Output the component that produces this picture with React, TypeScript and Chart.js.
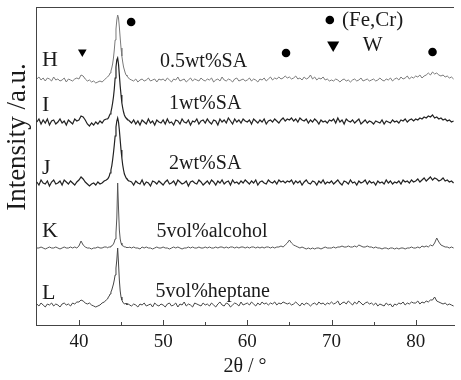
import React, { useEffect, useRef } from "react";
import { Chart, registerables } from "chart.js";
Chart.register(...registerables);

// 2θ sample positions (degrees)
const TWO_THETA = [
  35, 35.25, 35.5, 35.75, 36, 36.25, 36.5, 36.75, 37, 37.25, 37.5, 37.75, 38, 38.25, 38.5, 38.75, 39, 39.25, 39.5, 39.75,
  40, 40.25, 40.5, 40.75, 41, 41.25, 41.5, 41.75, 42, 42.25, 42.5, 42.75, 43, 43.25,
  43.4, 43.5, 43.6, 43.7, 43.8, 43.9, 44, 44.1, 44.2, 44.3, 44.4, 44.5, 44.6, 44.7, 44.8, 44.9, 45, 45.1, 45.2, 45.3, 45.4, 45.5, 45.6, 45.7, 45.8, 45.9, 46,
  46.25, 46.5, 46.75, 47, 47.25, 47.5, 47.75, 48, 48.25, 48.5, 48.75, 49, 49.25, 49.5, 49.75,
  50, 50.25, 50.5, 50.75, 51, 51.25, 51.5, 51.75, 52, 52.25, 52.5, 52.75, 53, 53.25, 53.5, 53.75, 54, 54.25, 54.5, 54.75,
  55, 55.25, 55.5, 55.75, 56, 56.25, 56.5, 56.75, 57, 57.25, 57.5, 57.75, 58, 58.25, 58.5, 58.75, 59, 59.25, 59.5, 59.75,
  60, 60.25, 60.5, 60.75, 61, 61.25, 61.5, 61.75, 62, 62.25, 62.5, 62.75, 63, 63.25, 63.5, 63.75, 64, 64.25, 64.5, 64.75,
  65, 65.25, 65.5, 65.75, 66, 66.25, 66.5, 66.75, 67, 67.25, 67.5, 67.75, 68, 68.25, 68.5, 68.75, 69, 69.25, 69.5, 69.75,
  70, 70.25, 70.5, 70.75, 71, 71.25, 71.5, 71.75, 72, 72.25, 72.5, 72.75, 73, 73.25, 73.5, 73.75, 74, 74.25, 74.5, 74.75,
  75, 75.25, 75.5, 75.75, 76, 76.25, 76.5, 76.75, 77, 77.25, 77.5, 77.75, 78, 78.25, 78.5, 78.75, 79, 79.25, 79.5, 79.75,
  80, 80.25, 80.5, 80.75, 81, 81.25, 81.5, 81.75, 82, 82.25, 82.5, 82.75, 83, 83.25, 83.5, 83.75, 84, 84.25, 84.5,
];

// Relative intensities (a.u.) of each pattern
const H_REL = [
  1, 3, 0, 2, -1, 2, 1, -1, 3, 0, 1, -1, 0, 2, -2, 1, 0, -1, 1, 2,
  1, 5, 4, 1, -1, 0, -2, -1, -3, -2, -1, -2, 0, 2,
  3, 4, 5, 7, 9, 12, 16, 22, 30, 40, 51, 60, 65, 62, 53, 42, 32, 24, 18, 13, 10, 7, 5, 4, 3, 2, 1,
  0, -1, 1, -2, 0, 1, -1, 0, 2, -1, 0, 1, -2, 1, 0,
  1, -1, 2, 0, -2, 1, 0, 3, -1, 0, 1, -2, 0, 2, -1, 1, 0, -1, 2, 0,
  -1, 1, 0, 2, -2, 0, 1, -1, 3, 0, -1, 1, 0, -2, 1, 2, -1, 0, 1, -1,
  0, 2, -1, 1, 0, -2, 1, 0, 2, -1, 1, 3, 0, 2, 1, 3, 1, 2, 4, 2,
  3, 1, 2, 4, 1, 2, 0, 3, 1, 2, 5, 1, 3, 0, 2, 1, 3, 0, 1, -1,
  0, -1, 1, 0, -2, 0, 1, -1, 0, -2, 0, 1, -1, 0, 2, -1, 0, 1, -1, 0,
  1, -1, 0, 2, 0, -1, 1, 0, 2, -1, 1, 2, 0, 3, 1, 2, 4, 1, 3, 2,
  4, 3, 5, 2, 4, 5, 7, 5, 8, 6, 7, 5, 4, 5, 3, 4, 2, 3, 1,
];
const I_REL = [
  0, 3, -2, 2, -1, 3, -3, 1, 2, -2, 0, 3, -1, 1, -3, 2, 0, -2, 3, 1,
  2, 6, 5, 2, -2, -4, -1, -3, 0, -2, 1, -1, 2, 3,
  3, 4, 6, 8, 10, 14, 19, 25, 33, 44, 55, 62, 64, 58, 47, 36, 27, 19, 14, 10, 7, 5, 4, 3, 2, 2, 1,
  -1, 2, -2, 1, -3, 2, 0, -2, 3, -1, 1, -3, 2, 0, -1,
  2, -2, 3, -1, 0, -3, 2, 1, -2, 3, 0, -1, 2, -3, 1, 0, 3, -2, 1, 2,
  -1, 3, 0, -2, 2, 1, -3, 3, 0, 2, -1, 4, 1, -2, 3, 0, 2, -1, 3, 1,
  0, 2, -2, 3, 1, -1, 2, 0, 3, -2, 1, 2, 0, 3, 1, -1, 2, 4, 1, 3,
  2, 4, 1, 3, 0, 4, 2, 1, 3, -1, 2, 0, 3, 1, -2, 2, 0, 1, -1, 2,
  1, 3, -1, 4, 0, 2, -2, 3, 1, 0, 2, -1, 1, 3, -2, 0, 2, -1, 1, 0,
  -2, 1, 0, -1, 2, -2, 1, 0, -1, 2, 0, 1, -1, 2, 1, 3, 0, 2, 3, 1,
  3, 2, 4, 3, 5, 4, 6, 5, 7, 4, 5, 3, 4, 2, 3, 1, 2, 0, 1,
];
const J_REL = [
  1, -2, 3, 0, -1, 2, -3, 1, 3, -1, 0, 2, -2, 3, 1, -1, 2, 0, -2, 1,
  3, 6, 4, 1, -1, -3, -1, 0, -2, 1, -1, 0, 2, 3,
  4, 5, 7, 10, 13, 17, 23, 30, 38, 47, 56, 62, 65, 61, 53, 43, 33, 25, 18, 13, 9, 7, 5, 4, 3, 2, 2,
  1, -2, 2, 0, -1, 3, -2, 1, 0, -3, 2, 1, -1, 2, 0,
  -2, 1, 3, -1, 0, 2, -2, 3, 1, -1, 0, 2, -3, 1, 2, 0, -1, 3, 1, -2,
  0, 2, -1, 3, 1, -2, 2, 0, 3, -1, 1, 2, -2, 3, 0, 1, -1, 2, 0, 3,
  1, -1, 2, 0, 3, -2, 1, 2, 0, -1, 3, 1, 0, 2, -1, 3, 1, 2, 0, 2,
  1, 3, -1, 2, 0, 2, -2, 1, 3, 0, -1, 2, 1, -2, 2, 0, 3, -1, 1, 0,
  2, -1, 1, 3, 0, -2, 2, 1, -1, 3, 0, 1, -2, 2, 0, 1, 3, -1, 2, 0,
  1, -2, 2, 0, 1, -1, 3, 0, 2, -1, 1, 0, 2, -1, 3, 1, 2, 0, 3, 1,
  2, 4, 1, 3, 5, 2, 4, 6, 3, 5, 4, 2, 3, 5, 2, 3, 1, 2, 0,
];
const K_REL = [
  0, 0, 1, 0, -1, 0, 1, 0, 0, 1, 0, -1, 0, 1, 0, 0, 1, 0, 1, 0,
  2, 7, 3, 1, 0, 0, -1, 0, 0, 1, 0, 0, 1, 1,
  0, 1, 1, 1, 2, 2, 3, 4, 6, 9, 15, 30, 65, 40, 18, 9, 5, 3, 2, 2, 1, 1, 1, 0, 1, 0, 1,
  0, 1, 0, 0, -1, 1, 0, 1, 0, 0, -1, 0, 1, 0, 0,
  1, 0, 0, -1, 0, 1, 0, 1, 0, -1, 0, 0, 1, 0, 1, 0, 0, 1, 0, 0,
  1, 0, 1, 0, 0, 1, 0, 1, 1, 0, 1, 0, 1, 1, 0, 1, 0, 1, 1, 0,
  1, 0, 1, 1, 0, 1, 0, 1, 0, 1, 1, 0, 1, 0, 1, 1, 2, 1, 3, 5,
  8, 5, 3, 2, 1, 0, 1, 0, -1, 0, -1, 0, -1, 0, 0, -1, 0, 1, 0, 0,
  0, 1, 0, 1, 1, 2, 1, 1, 2, 1, 1, 2, 1, 3, 2, 1, 1, 2, 1, 1,
  0, 1, 0, 0, -1, 0, 0, -1, 0, 0, -1, 0, -1, 0, 0, -1, 0, 0, 1, 0,
  0, 1, 0, 2, 1, 2, 1, 3, 2, 5, 10, 6, 3, 2, 1, 1, 0, 1, 0,
];
const L_REL = [
  1, -1, 2, 0, -2, 1, 0, 2, -1, 1, 0, -2, 1, 2, 0, 1, -1, 2, 1, 3,
  3, 5, 4, 2, 1, 2, 0, -1, -2, -1, 0, 2, 3, 5,
  6, 8, 9, 11, 13, 15, 18, 21, 25, 30, 37, 45, 57, 42, 25, 14, 8, 5, 3, 2, 1, 1, 2, 0, 1, 1, 0,
  -1, 1, 0, -2, 1, 0, 2, -1, 0, 1, -2, 2, 0, -1, 1,
  0, -2, 1, 2, -1, 0, 2, -2, 1, 0, 3, -1, 1, 0, -2, 2, 1, 0, -1, 2,
  0, 1, -1, 2, 0, -2, 1, 3, 0, -1, 2, 1, -2, 0, 2, 1, -1, 3, 0, 1,
  2, 0, 3, 1, -1, 2, 0, 3, 1, 2, 0, 2, 1, 3, 0, 2, 1, 3, 2, 1,
  2, 0, 1, 3, 1, -1, 2, 0, 2, 1, -1, 1, 2, 0, 3, 1, 2, 0, 2, 1,
  3, 1, 2, 4, 0, 2, 3, 1, 4, 2, 0, 3, 1, 4, 2, 0, 2, 3, 1, 2,
  0, 2, -1, 1, 0, -1, 2, 0, 1, -2, 1, 0, 2, 1, 3, 0, 2, 1, 3, 2,
  2, 4, 1, 3, 2, 4, 3, 5, 5, 8, 4, 3, 2, 1, 2, 0, 1, 0, -1,
];

// vertical offsets of the stacked patterns
const OFFSETS = [245, 203, 142, 77, 20];
const SERIES_LETTERS = ["H", "I", "J", "K", "L"];
const LETTER_X = 35.6;
const LETTER_Y = [265, 220, 157, 94, 32];
const SAMPLE_LABELS = ["0.5wt%SA", "1wt%SA", "2wt%SA", "5vol%alcohol", "5vol%heptane"];
const SAMPLE_X = [54.8, 55.0, 55.0, 55.8, 55.9];
const SAMPLE_Y = [263, 221, 161, 93, 33];
const COLORS = ["#7a7a7a", "#222222", "#222222", "#555555", "#444444"];
const WIDTHS = [1, 1.2, 1.2, 1, 1];

// phase markers
const FECR_X = [46.2, 64.6, 82.0];
const FECR_Y = [303, 272, 273];
const W_X = [40.4];
const W_Y = [273];
const LEGEND_FECR = { x: 69.8, y: 305, text: "(Fe,Cr)", tx: 71.25 };
const LEGEND_W = { x: 70.2, y: 280, text: "W", tx: 73.7 };

const X_TICKS = [40, 50, 60, 70, 80];
const X_MIN = 34.9;
const X_MAX = 84.55;

const SERIF = "'Liberation Serif', 'Times New Roman', serif";

export default function App() {
  const ref = useRef<HTMLCanvasElement>(null);
  useEffect(() => {
    if (!ref.current) return;
    const rels = [H_REL, I_REL, J_REL, K_REL, L_REL];
    const datasets: any[] = rels.map((r, k) => ({
      type: "line",
      data: r.map((v, i) => ({ x: TWO_THETA[i], y: OFFSETS[k] + v })),
      borderColor: COLORS[k],
      borderWidth: WIDTHS[k],
      pointRadius: 0,
      tension: 0,
    }));
    datasets.push({
      type: "scatter",
      data: [...FECR_X.map((x, i) => ({ x, y: FECR_Y[i] })), { x: LEGEND_FECR.x, y: LEGEND_FECR.y }],
      pointStyle: "circle",
      pointRadius: 4.3,
      backgroundColor: "#000",
      borderColor: "#000",
      borderWidth: 0,
    });
    datasets.push({
      type: "scatter",
      data: W_X.map((x, i) => ({ x, y: W_Y[i] })),
      pointStyle: "triangle",
      rotation: 180,
      pointRadius: 5,
      backgroundColor: "#000",
      borderColor: "#000",
      borderWidth: 0,
    });
    datasets.push({
      type: "scatter",
      data: [{ x: LEGEND_W.x, y: LEGEND_W.y }],
      pointStyle: "triangle",
      rotation: 180,
      pointRadius: 7,
      backgroundColor: "#000",
      borderColor: "#000",
      borderWidth: 0,
    });

    const textPlugin = {
      id: "texts",
      afterDraw(chart: any) {
        const { ctx, chartArea, scales } = chart;
        const xs = scales.x;
        const ys = scales.y;
        ctx.save();
        ctx.strokeStyle = "#444";
        ctx.lineWidth = 1;
        ctx.beginPath();
        ctx.moveTo(chartArea.left, chartArea.top + 0.5);
        ctx.lineTo(chartArea.right, chartArea.top + 0.5);
        ctx.stroke();
        ctx.beginPath();
        for (let i = 0; i < X_TICKS.length; i++) {
          const px = Math.round(xs.getPixelForValue(X_TICKS[i])) + 0.5;
          ctx.moveTo(px, chartArea.bottom);
          ctx.lineTo(px, chartArea.bottom - 5);
          const mid = X_TICKS[i] + 5;
          if (mid < X_MAX) {
            const pm = Math.round(xs.getPixelForValue(mid)) + 0.5;
            ctx.moveTo(pm, chartArea.bottom);
            ctx.lineTo(pm, chartArea.bottom - 3);
          }
        }
        ctx.stroke();

        ctx.fillStyle = "#1a1a1a";
        ctx.textBaseline = "middle";
        ctx.font = `22px ${SERIF}`;
        ctx.textAlign = "left";
        SERIES_LETTERS.forEach((t, k) => {
          ctx.fillText(t, xs.getPixelForValue(LETTER_X), ys.getPixelForValue(LETTER_Y[k]));
        });
        ctx.font = `20px ${SERIF}`;
        ctx.textAlign = "center";
        SAMPLE_LABELS.forEach((t, k) => {
          ctx.fillText(t, xs.getPixelForValue(SAMPLE_X[k]), ys.getPixelForValue(SAMPLE_Y[k]));
        });
        ctx.font = `21px ${SERIF}`;
        ctx.textAlign = "left";
        ctx.fillText(LEGEND_FECR.text, xs.getPixelForValue(LEGEND_FECR.tx), ys.getPixelForValue(LEGEND_FECR.y));
        ctx.fillText(LEGEND_W.text, xs.getPixelForValue(LEGEND_W.tx), ys.getPixelForValue(LEGEND_W.y));
        ctx.save();
        ctx.translate(18, 137);
        ctx.rotate(-Math.PI / 2);
        ctx.textAlign = "center";
        ctx.font = `27px ${SERIF}`;
        ctx.fillText("Intensity /a.u.", 0, 0);
        ctx.restore();
        ctx.restore();
      },
    };

    const chart = new Chart(ref.current, {
      data: { datasets },
      options: {
        animation: false,
        responsive: false,
        maintainAspectRatio: false,
        layout: { padding: { top: 7, right: 0, left: 0, bottom: 0 } },
        plugins: { legend: { display: false }, tooltip: { enabled: false } },
        scales: {
          x: {
            type: "linear",
            min: X_MIN,
            max: X_MAX,
            afterBuildTicks: (scale: any) => {
              scale.ticks = X_TICKS.map((v) => ({ value: v }));
            },
            afterFit: (scale: any) => {
              scale.height = 55;
            },
            grid: { display: false, drawTicks: false },
            border: { display: true, color: "#444", width: 1 },
            ticks: {
              color: "#1a1a1a",
              font: { family: SERIF, size: 19 },
              padding: 6,
              maxRotation: 0,
            },
            title: {
              display: true,
              text: "2θ / °",
              color: "#1a1a1a",
              font: { family: SERIF, size: 20 },
              padding: { top: 0, bottom: 1 },
            },
          },
          y: {
            type: "linear",
            min: 0,
            max: 318,
            afterFit: (scale: any) => {
              scale.width = 36;
            },
            grid: { display: false, drawTicks: false },
            border: { display: true, color: "#444", width: 1 },
            ticks: { display: false },
          },
        },
      },
      plugins: [textPlugin],
    } as any);
    return () => chart.destroy();
  }, []);

  return (
    <div style={{ position: "fixed", left: 0, top: 0, width: 461, height: 380, background: "#fff" }}>
      <canvas ref={ref} width={461} height={380} />
    </div>
  );
}
